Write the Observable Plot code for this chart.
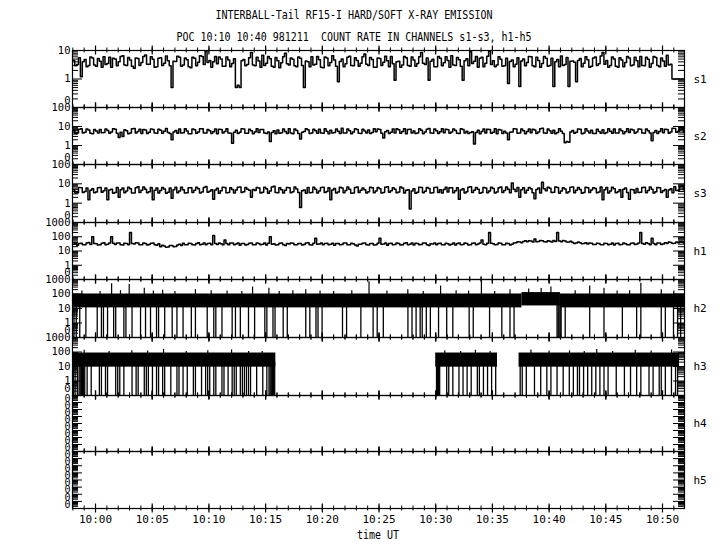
<!DOCTYPE html>
<html><head><meta charset="utf-8">
<script src="https://cdn.jsdelivr.net/npm/d3@7"></script>
<script src="https://cdn.jsdelivr.net/npm/@observablehq/plot@0.6"></script>
<style>
body{margin:0;background:#fff;color:#000;}
#chart{position:relative;width:720px;height:550px;font-family:"DejaVu Sans Mono",monospace;overflow:hidden;}
.txt{position:absolute;left:-6px;width:720px;text-align:center;font-size:10px;line-height:12px;white-space:pre;transform:scaleY(1.25);}
#chart svg{position:absolute;left:0;overflow:visible;}
</style></head><body><div id="chart"></div>
<script>
// ---------- text ----------
const title = "INTERBALL-Tail RF15-I HARD/SOFT X-RAY EMISSION";
const subtitle = "POC 10:10 10:40 981211  COUNT RATE IN CHANNELS s1-s3, h1-h5";
const xTitle = "time UT";
const channels = ["s1","s2","s3","h1","h2","h3","h4","h5"];

// ---------- time (minutes after 10:00 UT, 1998-12-11) ----------
const xStartMin = -2.03, xEndMin = 51.94;
const sampleStartMin = -2, sampleStepMin = 1/3;   // samples every 20 s, "Alt" arrays 10 s later
const minuteTicks = d3.range(-2, 52);
const labelTicks = [0,5,10,15,20,25,30,35,40,45,50];

// ---------- count rates ----------
const s1 = [4.5,3.2,1.2,4.8,3.0,5.5,2.8,4.2,6.0,3.5, 2.6,5.0,4.0,6.5,3.0,4.6,2.4,5.2,3.8,7.0,
 3.3,4.9,2.7,5.6,3.6,4.4,0.5,4.1,5.8,3.1, 4.7,2.5,5.3,3.9,6.2,9.5,4.5,4.0,3.4,5.0,
 2.8,4.6,3.5,0.5,0.5,4.8,3.2,8.5,2.9,4.3, 6.8,3.6,5.1,2.6,4.4,3.7,8.0,3.1,4.9,2.7,
 5.4,0.5,4.0,6.0,3.3,4.7,2.5,5.5,3.8,4.6, 0.8,5.0,3.4,6.3,2.9,4.5,3.6,7.5,3.0,4.8,
 2.6,5.2,3.9,4.4,6.1,0.9,4.2,3.1,5.6,2.8, 4.6,3.5,8.5,3.2,0.9,4.9,2.7,5.3,3.7,4.5,
 6.6,3.0,4.7,0.9,5.1,9.0,4.2,2.6,5.8,3.6, 9.5,4.4,3.1,4.9,2.9,0.7,4.6,3.3,0.55,5.0,
 3.8,6.0,2.7,4.5,3.5,5.4,3.0,0.55,4.8,6.4, 3.2,0.55,4.3,0.8,5.2,3.6,4.7,2.8,5.9,3.4,
 8.5,4.5,3.0,5.0,2.6,4.6,3.8,5.5,3.1,4.4, 6.2,2.9,4.9,3.5,5.7,2.7,4.3,6.8,3.3,1.0,
 1.0,1.0,1.0];
const s1Alt = [2.9,5.6,4.0,2.7,5.9,3.1,5.2,2.6,3.2,5.8, 5.4,2.9,6.2,3.1,5.7,2.8,5.5,3.0,6.1,3.3,
 6.0,2.6,5.3,3.0,6.4,2.9,4.2,6.3,2.8,5.5, 2.7,5.8,2.9,6.6,3.2,3.8,2.6,6.2,5.9,2.8,
 5.9,2.7,5.1,0.6,4.4,2.9,5.6,3.1,5.8,2.6, 3.0,6.1,2.8,5.7,2.5,6.0,3.4,5.5,2.9,5.9,
 3.0,4.3,2.7,3.1,6.2,2.6,5.9,2.9,6.5,2.8, 4.1,2.7,5.8,3.0,5.6,2.8,6.0,3.3,5.7,2.6,
 5.5,3.0,6.3,2.7,3.4,4.0,2.6,6.1,3.0,5.9, 2.8,6.0,3.6,5.5,4.2,2.7,6.2,2.9,6.0,2.6,
 3.1,5.7,2.8,4.4,2.9,3.5,6.1,5.4,2.7,6.3, 3.2,2.7,6.0,2.8,5.4,4.1,2.7,5.6,4.3,2.9,
 6.2,2.9,5.8,2.6,6.1,2.8,5.3,4.0,2.7,3.0, 5.7,4.2,3.9,4.5,2.7,6.0,2.6,5.5,3.0,6.4,
 3.3,2.6,5.9,2.8,5.6,2.7,6.2,2.9,5.8,2.7, 3.0,5.8,2.6,6.1,3.0,5.5,2.8,3.1,1.0,1.0,
 1.0,1.0,1.0];
const s2 = [6.0,4.5,7.5,5.0,6.5,4.2,5.8,7.0,4.8,6.2, 5.2,7.2,2.6,3.0,6.0,4.6,7.8,5.4,4.3,6.6,
 5.0,7.0,4.4,6.3,5.6,4.9,2.0,6.1,7.4,4.7, 5.8,4.2,6.8,5.2,7.6,4.5,6.0,5.3,4.1,6.9,
 5.5,4.6,1.3,6.4,5.0,7.3,4.4,6.0,5.2,4.8, 7.0,4.3,1.6,5.9,6.6,4.7,5.5,7.5,4.2,6.1,
 2.2,5.4,6.8,4.6,5.9,7.1,4.4,5.6,6.3,4.9, 5.7,8.2,4.5,6.0,5.1,6.9,4.3,5.8,6.5,4.8,
 5.3,7.0,2.5,6.2,5.0,4.5,6.7,5.5,4.2,7.2, 5.8,4.6,6.4,5.1,7.8,4.4,6.0,5.3,4.7,6.8,
 5.2,6.1,4.3,7.0,5.6,4.8,1.2,6.3,5.4,4.6, 6.9,5.0,4.2,6.5,5.7,2.0,5.1,7.3,4.5,6.0,
 5.5,4.7,6.6,5.2,8.0,4.4,5.9,6.4,4.9,5.6, 1.4,1.5,6.2,5.0,7.1,4.6,5.8,6.3,4.3,5.5,
 6.8,4.9,5.6,7.4,4.5,6.0,5.3,4.8,6.6,5.1, 7.2,4.4,5.9,1.8,6.1,5.4,4.7,6.9,5.2,7.8,
 5.6,8.5,6.0];
const s2Alt = [4.3,7.2,4.6,7.4,4.4,7.0,4.5,4.7,7.3,4.4, 7.5,4.4,5.0,6.8,4.2,7.6,4.5,7.1,7.0,4.3,
 7.4,4.5,7.2,4.4,7.8,4.3,5.2,4.4,4.6,7.5, 4.2,7.3,4.4,7.7,4.6,7.0,4.3,7.4,7.1,4.5,
 7.6,4.4,5.0,4.3,7.5,4.4,7.2,4.2,7.6,7.0, 4.5,5.2,4.8,4.2,4.4,7.3,4.3,4.6,7.4,4.3,
 5.0,7.6,4.3,7.2,4.4,4.5,7.7,4.2,4.5,7.3, 4.3,4.6,7.4,4.2,7.5,4.4,7.2,4.5,4.3,7.6,
 7.4,4.4,5.3,4.3,7.3,7.6,4.4,7.5,7.0,4.5, 4.3,7.5,4.2,7.2,4.6,7.4,4.3,7.7,7.1,4.4,
 7.3,4.4,7.6,4.5,4.3,5.3,4.9,4.2,7.4,7.2, 4.4,7.6,7.0,4.3,4.6,5.0,7.5,4.4,7.3,4.2,
 7.4,7.2,4.3,7.6,4.5,7.3,4.4,4.2,7.5,4.3, 1.6,5.1,4.4,7.4,4.2,7.6,4.5,4.3,7.2,4.4,
 4.3,7.5,4.4,4.6,7.3,4.2,7.6,7.1,4.4,7.4, 4.5,7.3,4.6,4.9,4.3,7.5,7.2,4.4,8.2,5.0,
 8.8,5.2,7.0];
const s3 = [5.0,3.5,6.2,4.0,1.5,5.5,3.8,6.5,4.4,1.5, 5.2,3.6,2.0,6.0,4.2,5.6,3.4,7.0,4.6,5.3,
 3.9,1.5,6.1,4.5,5.4,3.7,1.8,6.6,4.3,5.0, 3.5,6.3,4.7,5.5,3.8,7.2,4.1,1.6,5.9,4.4,
 6.4,3.6,5.1,4.8,6.8,3.9,5.3,2.0,4.5,6.0, 3.7,5.6,4.2,7.4,3.5,5.0,4.6,6.2,3.9,5.4,
 0.6,4.8,6.5,3.6,5.2,4.3,6.7,4.0,1.5,5.7, 3.8,6.1,4.5,5.3,3.4,6.9,4.7,5.0,3.9,6.3,
 4.2,5.6,3.6,7.1,4.4,5.2,3.8,6.0,4.6,0.5, 5.5,3.7,6.4,4.1,5.8,3.5,6.6,4.9,5.1,3.8,
 6.2,4.4,1.6,5.6,3.9,7.0,4.6,5.3,3.6,6.1, 4.3,5.7,3.8,6.8,4.5,5.2,11.0,4.0,2.0,6.3,
 4.7,5.5,1.7,6.0,12.0,4.4,5.9,3.7,6.5,4.2, 5.4,3.9,6.9,4.6,5.1,3.6,6.2,4.8,5.7,3.8,
 1.5,6.4,4.3,5.5,3.9,2.0,6.1,1.6,4.9,5.8, 3.7,6.7,4.5,5.2,3.9,6.3,4.4,2.0,5.6,7.0,
 4.6,8.0,5.5];
const s3Alt = [3.4,6.4,3.6,6.1,4.6,3.5,6.3,3.7,6.0,4.8, 3.3,6.5,4.9,3.5,6.6,3.4,6.2,3.6,6.8,3.5,
 6.4,4.7,3.4,6.5,3.3,6.0,4.9,3.5,6.7,3.4, 6.2,3.6,6.6,3.4,6.4,3.7,5.0,4.8,3.3,6.6,
 3.5,6.2,3.4,6.7,3.6,6.5,4.6,5.1,6.4,3.4, 6.6,3.3,6.8,3.6,6.3,3.4,6.5,3.5,6.9,3.6,
 4.4,3.3,3.5,6.6,3.4,6.4,3.6,6.3,4.8,3.4, 6.6,3.5,6.8,3.3,6.5,3.6,6.1,3.4,6.7,3.5,
 6.5,3.4,6.6,3.7,6.3,3.5,6.8,3.4,5.0,4.2, 3.3,6.7,3.5,6.5,3.4,6.4,3.6,3.4,6.6,6.2,
 3.5,6.3,4.8,3.4,6.7,3.6,6.4,3.3,6.5,3.5, 6.6,3.4,6.2,3.6,6.9,3.5,5.2,6.4,5.0,3.4,
 6.4,3.5,5.1,3.4,5.5,6.6,3.6,6.8,3.3,6.3, 3.4,6.6,3.5,6.5,3.3,6.7,3.6,6.2,3.5,6.8,
 4.9,3.4,6.6,3.5,5.0,5.3,3.6,5.1,3.4,3.6, 6.5,3.5,6.8,3.4,6.4,3.6,5.1,4.8,3.5,4.5,
 7.2,5.0,6.6];
const h1 = [30,25,35,28,40,100,32,27,38,30, 100,29,36,26,33,200,31,37,27,34,
 29,36,25,20,22,19,24,21,30,35, 28,33,26,38,30,27,35,120,29,32,
 60,28,36,31,25,34,29,37,27,33, 30,26,100,32,28,36,24,31,35,27,
 33,29,38,26,80,31,28,35,30,25, 34,29,37,27,32,22,30,36,26,33,
 28,80,31,25,35,29,33,27,38,30, 26,34,29,36,24,31,28,35,27,32,
 30,26,37,29,33,27,36,31,60,28, 200,32,29,35,27,33,30,38,42,47,
 44,50,70,46,52,43,48,55,200,45, 50,42,40,36,38,33,31,35,29,33,
 28,34,30,26,35,29,32,27,36,31, 200,30,34,80,28,36,31,33,40,35,
 38,45,37];
const h1Alt = [38,33,27,36,29,34,26,35,28,36, 35,37,28,35,27,34,38,28,36,26,
 35,27,32,25,18,24,20,26,24,28, 35,27,34,28,36,33,28,34,36,27,
 34,37,27,36,33,26,35,28,36,27, 36,35,30,26,35,27,33,36,27,34,
 26,36,28,35,30,36,34,27,35,33, 27,36,28,35,26,30,35,27,34,26,
 35,30,36,33,27,36,26,35,28,36, 35,27,36,27,32,36,34,28,35,26,
 36,33,28,36,26,35,28,36,30,35, 35,27,36,28,35,26,36,44,38,52,
 53,42,45,55,44,53,42,46,50,54, 43,48,34,42,32,38,37,29,35,28,
 35,28,36,33,27,36,27,35,29,36, 34,38,28,34,36,29,38,42,33,42,
 44,36,45];

// h2 : dense band with drop-outs to zero and upward spikes
const h2BandStart = [-2.03, 37.6, 41.0];
const h2BandEnd   = [37.6, 41.0, 51.94];
const h2BandLo    = [11, 15, 11];
const h2BandHi    = [100, 125, 100];
const h2Dips = [-1.9,-1.7,-1.39,-0.85,0.15,0.52,0.70,1.06,1.60,1.78,2.50,2.68,3.22,3.97,4.41,4.85,5.38,5.56,6.10,6.76,
 7.18,7.72,8.45,8.81,9.85,10.43,10.61,11.15,12.05,12.34,12.77,13.49,14.03,14.93,15.11,15.65,15.83,16.55,16.91,
 18.54,18.90,19.44,19.62,19.98,21.78,22.14,23.40,24.48,24.84,25.38,27.55,27.91,28.27,28.63,28.81,29.17,29.53,
 30.25,30.97,31.51,32.95,33.31,34.75,35.83,36.55,36.91,40.70,40.80,40.88,40.98,41.06,41.42,43.58,44.84,46.46,
 47.72,48.09,49.89,50.25,50.97,51.33,51.6];
const h2SpikeTime = [-1.2,0.4,1.42,2.2,2.97,4.30,5.1,5.92,7.0,8.81,10.2,11.6,12.9,13.85,15.29,16.2,17.4,18.54,19.8,21.0,
 22.6,24.12,25.7,27.54,28.9,30.43,31.8,32.9,34.03,35.2,36.55,38.2,39.3,40.16,42.3,43.58,44.84,46.0,47.1,48.09,49.89,51.0];
const h2SpikeTop  = [160,150,500,170,450,250,160,180,150,200,170,160,150,300,250,150,170,200,160,150,
 170,700,160,200,150,350,170,160,900,150,200,220,240,300,170,350,250,160,170,550,200,160];

// h3 : band only while active, drop-outs to zero
const h3BandStart = [-2.03, 30.0, 37.35];
const h3BandEnd   = [15.9, 35.45, 51.5];
const h3BandLo    = [9, 9, 9];
const h3BandHi    = [85, 85, 85];
const h3Dips = [-1.95,-1.8,-1.6,-1.45,-1.35,-1.25,-1.15,-1.05,-0.95,-0.74,-0.38,0.34,0.52,0.88,1.06,1.78,1.96,2.14,2.50,
 3.22,3.58,3.76,4.30,4.48,4.66,5.02,5.38,5.56,5.92,6.10,6.64,7.18,7.36,7.72,8.09,8.63,8.81,9.35,9.71,9.89,10.07,
 10.43,10.61,11.15,11.33,11.69,12.05,12.23,12.41,12.77,12.95,13.13,13.31,13.49,13.67,14.21,14.75,15.11,
 15.3,15.4,15.5,15.6,15.7,15.8, 30.07,30.15,30.25,30.35,30.97,31.15,31.51,32.05,32.41,32.77,33.13,33.67,33.85,
 34.21,34.57,34.93,35.29, 37.45,37.63,37.99,38.71,39.26,39.80,40.16,40.70,41.24,41.78,42.14,42.50,42.68,43.04,
 43.40,43.76,44.12,44.48,44.84,45.20,45.92,46.64,47.18,47.72,48.09,48.81,49.17,49.71,49.89,50.25,50.79,51.15,51.33];
const h3SpikeTime = [-1.0,1.2,3.2,4.6,6.0,8.0,9.9,12.0,13.5,14.7,30.8,32.2,33.5,34.8,38.4,40.0,41.8,43.1,44.2,45.6,47.6,49.0,50.8];
const h3SpikeTop  = [130,110,120,115,150,110,120,140,110,110,120,110,130,110,140,115,120,110,150,110,130,115,140];

// ---------- y axes ----------
const yDomains = {s1:[0.1,10], s2:[0.1,100], s3:[0.1,100], h1:[0.1,1000], h2:[0.1,1000], h3:[0.1,1000], h4:[1e-8,1], h5:[1e-8,1]};
const yLabels  = {s1:[1,10], s2:[1,10,100], s3:[1,10,100], h1:[1,10,100,1000], h2:[1,10,100,1000], h3:[1,10,100,1000], h4:[], h5:[]};
const yZeroLabels = {h4:[1e-1,1e-2,1e-3,1e-4,1e-5,1e-6,1e-7,1e-8], h5:[1e-1,1e-2,1e-3,1e-4,1e-5,1e-6,1e-7,1e-8]};

// ---------- layout ----------
const panelTop = [50,107,164,222,279,337,395,451];
const panelH   = [57,57,58,57,58,58,56,57];
const W = 720, ML = 72, MR = 36, PW = W - ML - MR, PAD = 10;

const T0 = Date.UTC(1998, 11, 11, 10, 0, 0);
const at = m => new Date(T0 + m * 60000);
function merged(main, alt) {
  const out = [];
  main.forEach((v, i) => {
    out.push({t: at(sampleStartMin + i * sampleStepMin), v});
    out.push({t: at(sampleStartMin + (i + 0.5) * sampleStepMin), v: alt[i]});
  });
  return out;
}

const root = document.getElementById("chart");
function addText(str, top, extra) {
  const d = document.createElement("div");
  d.className = "txt"; d.textContent = str; d.style.top = top + "px";
  Object.assign(d.style, extra || {});
  root.appendChild(d);
}
addText(title, 9);
addText(subtitle, 31);

function decadeTicks(dom) {
  const out = [];
  for (let e = Math.round(Math.log10(dom[0])); e <= Math.round(Math.log10(dom[1])); e++) out.push(Math.pow(10, e));
  return out;
}
function minorTicks(dom) {
  const out = [];
  for (const d of decadeTicks(dom)) if (d < dom[1]) for (let k = 2; k <= 9; k++) out.push(d * k);
  return out;
}

const seriesMap = {s1: [s1, s1Alt], s2: [s2, s2Alt], s3: [s3, s3Alt], h1: [h1, h1Alt]};

channels.forEach((ch, i) => {
  const h = panelH[i], dom = yDomains[ch];
  const marks = [];
  // data
  if (seriesMap[ch]) {
    const data = merged(...seriesMap[ch]);
    marks.push(Plot.line(data, {x: "t", y: "v", curve: "step-after", stroke: "black", strokeWidth: 1.5, clip: true}));
  }
  if (ch === "h2" || ch === "h3") {
    const bs = ch === "h2" ? [h2BandStart, h2BandEnd, h2BandLo, h2BandHi] : [h3BandStart, h3BandEnd, h3BandLo, h3BandHi];
    const band = bs[0].map((s, j) => ({s, e: bs[1][j], lo: bs[2][j], hi: bs[3][j]}));
    marks.push(Plot.rect(band, {x1: d => at(d.s), x2: d => at(d.e), y1: "lo", y2: "hi", fill: "black", clip: true}));
    const dips = ch === "h2" ? h2Dips : h3Dips;
    marks.push(Plot.ruleX(dips, {x: at, y1: 0.1, y2: 20, stroke: "black", strokeWidth: 1.3, clip: true}));
    const st = ch === "h2" ? h2SpikeTime : h3SpikeTime, sv = ch === "h2" ? h2SpikeTop : h3SpikeTop;
    marks.push(Plot.ruleX(st, {x: at, y1: 50, y2: (d, j) => sv[j], stroke: "black", strokeWidth: 1.2, clip: true}));
  }
  // frame
  marks.push(Plot.frame({stroke: "black", strokeWidth: 1.2}));
  // y ticks (inside, both sides)
  const minors = minorTicks(dom), majors = decadeTicks(dom);
  marks.push(Plot.ruleY(minors, {y: d => d, insetRight: PW - 6, stroke: "black"}));
  marks.push(Plot.ruleY(majors, {y: d => d, insetRight: PW - 10, stroke: "black"}));
  marks.push(Plot.ruleY(minors, {y: d => d, insetLeft: PW - 6, stroke: "black"}));
  marks.push(Plot.ruleY(majors, {y: d => d, insetLeft: PW - 11, stroke: "black"}));
  // x ticks crossing top and bottom borders
  const minorT = minuteTicks.map(at), majorT = labelTicks.map(at);
  marks.push(Plot.ruleX(minorT, {x: d => d, insetTop: -2.5, insetBottom: h - 2.5, stroke: "black"}));
  marks.push(Plot.ruleX(minorT, {x: d => d, insetTop: h - 2.5, insetBottom: -2.5, stroke: "black"}));
  marks.push(Plot.ruleX(majorT, {x: d => d, insetTop: -4.5, insetBottom: h - 4.5, stroke: "black", strokeWidth: 1.2}));
  marks.push(Plot.ruleX(majorT, {x: d => d, insetTop: h - 4.5, insetBottom: -4.5, stroke: "black", strokeWidth: 1.2}));
  // y labels
  if (yLabels[ch].length) {
    marks.push(Plot.axisY({ticks: yLabels[ch], tickSize: 0, tickPadding: 2, tickFormat: d => String(d), fontSize: 10.5, label: null}));
    marks.push(Plot.axisY({ticks: [dom[0]], tickSize: 0, tickPadding: 2, tickFormat: () => "0", fontSize: 10.5, label: null, dy: -7}));
  } else {
    marks.push(Plot.axisY({ticks: yZeroLabels[ch], tickSize: 0, tickPadding: 2, tickFormat: () => "0", fontSize: 10, label: null, dy: -4}));
  }
  // channel name
  marks.push(Plot.text([ch], {frameAnchor: "right", dx: 9, textAnchor: "start", fontSize: 11, fill: "black"}));
  // time labels on last panel
  if (i === channels.length - 1) {
    marks.push(Plot.axisX({ticks: labelTicks.map(at), tickSize: 0, tickPadding: 7, tickFormat: d3.utcFormat("%H:%M"), fontSize: 11, label: null}));
  }
  const svg = Plot.plot({
    width: W, height: h + 2 * PAD,
    marginLeft: ML, marginRight: MR, marginTop: PAD, marginBottom: PAD,
    x: {type: "utc", domain: [at(xStartMin), at(xEndMin)], axis: null},
    y: {type: "log", domain: dom, axis: null},
    style: {background: "none", overflow: "visible", fontFamily: "DejaVu Sans Mono, monospace", color: "black"},
    marks
  });
  svg.style.top = (panelTop[i] - PAD) + "px";
  root.appendChild(svg);
});
addText(xTitle, 529, {left: "18px", fontSize: "10px"});
</script></body></html>
